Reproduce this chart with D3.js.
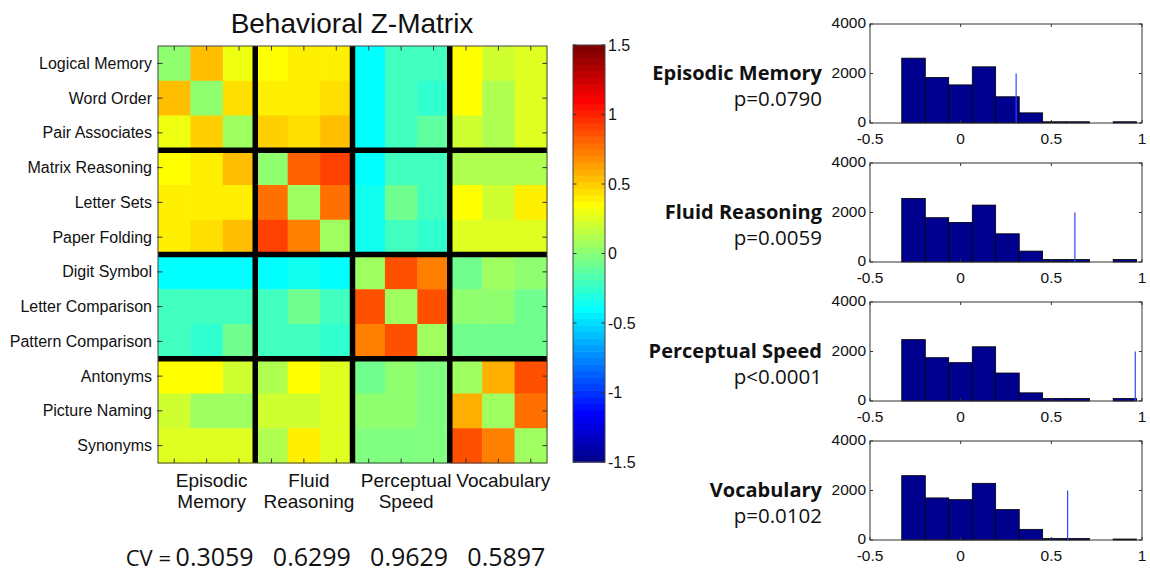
<!DOCTYPE html>
<html>
<head>
<meta charset="utf-8">
<script src="https://cdn.jsdelivr.net/npm/d3@7"></script>
<style>
  body { margin: 0; background: #fff; }
  svg text { fill: #111; }
</style>
</head>
<body>
<div id="chart"></div>
<script>
// ---- data ----
const tests = ['Logical Memory', 'Word Order', 'Pair Associates',
  'Matrix Reasoning', 'Letter Sets', 'Paper Folding',
  'Digit Symbol', 'Letter Comparison', 'Pattern Comparison',
  'Antonyms', 'Picture Naming', 'Synonyms'];

const groupLabels = [['Episodic', 'Memory'], ['Fluid', 'Reasoning'], ['Perceptual', 'Speed'], ['Vocabulary']];

const zMatrix = [
  [0.02, 0.56, 0.31, 0.35, 0.39, 0.40, -0.40, -0.19, -0.19, 0.33, 0.19, 0.26],
  [0.56, 0.02, 0.46, 0.40, 0.41, 0.45, -0.38, -0.23, -0.28, 0.36, 0.10, 0.24],
  [0.31, 0.48, 0.07, 0.50, 0.43, 0.55, -0.38, -0.23, -0.14, 0.21, 0.10, 0.24],
  [0.35, 0.39, 0.52, 0.00, 0.80, 0.90, -0.39, -0.19, -0.19, 0.10, 0.14, 0.10],
  [0.40, 0.40, 0.42, 0.78, 0.05, 0.75, -0.33, -0.05, -0.19, 0.36, 0.21, 0.41],
  [0.40, 0.45, 0.54, 0.90, 0.73, 0.07, -0.35, -0.23, -0.28, 0.28, 0.28, 0.24],
  [-0.38, -0.38, -0.38, -0.38, -0.35, -0.38, 0.05, 0.89, 0.73, -0.05, 0.07, 0.02],
  [-0.19, -0.23, -0.23, -0.19, -0.05, -0.23, 0.89, 0.05, 0.89, 0.00, 0.00, -0.05],
  [-0.19, -0.28, -0.09, -0.19, -0.19, -0.28, 0.73, 0.89, 0.07, -0.05, -0.05, -0.05],
  [0.33, 0.33, 0.19, 0.12, 0.37, 0.28, -0.05, 0.00, -0.03, 0.05, 0.60, 0.89],
  [0.19, 0.07, 0.07, 0.21, 0.21, 0.28, 0.02, 0.02, -0.03, 0.60, 0.07, 0.75],
  [0.26, 0.24, 0.24, 0.10, 0.42, 0.26, -0.03, -0.03, -0.03, 0.89, 0.73, 0.07]
];

const colorTicks = [-1.5, -1, -0.5, 0, 0.5, 1, 1.5];
const cvValues = [0.3059, 0.6299, 0.9629, 0.5897];

const histNames = ['Episodic Memory', 'Fluid Reasoning', 'Perceptual Speed', 'Vocabulary'];
const histP = ['p=0.0790', 'p=0.0059', 'p<0.0001', 'p=0.0102'];
const binEdges = [-0.325, -0.195, -0.066, 0.064, 0.193, 0.323, 0.452, 0.582, 0.711, 0.841, 0.970];
const countsEpisodic   = [2620, 1840, 1540, 2270, 1060, 410, 50, 50, 0, 50];
const countsFluid      = [2570, 1790, 1600, 2300, 1140, 440, 100, 100, 0, 100];
const countsPerceptual = [2480, 1750, 1550, 2190, 1130, 330, 100, 100, 0, 100];
const countsVocabulary = [2600, 1700, 1630, 2290, 1230, 430, 60, 60, 0, 40];
const histCounts = [countsEpisodic, countsFluid, countsPerceptual, countsVocabulary];
const histXTicks = [-0.5, 0, 0.5, 1];
const histYTicks = [0, 2000, 4000];
const cvLineHeight = 2000;

// ---- MATLAB jet(64) ----
function jetMap(n) {
  const m = Math.ceil(n / 4);
  const u = [];
  for (let i = 1; i <= m; i++) u.push(i / m);
  for (let i = 1; i < m; i++) u.push(1);
  for (let i = m; i >= 1; i--) u.push(i / m);
  const J = d3.range(n).map(() => [0, 0, 0]);
  const g0 = Math.ceil(m / 2) - (n % 4 === 1 ? 1 : 0);
  u.forEach((val, k) => {
    const g = g0 + k + 1, r = g + m, b = g - m;
    if (r >= 1 && r <= n) J[r - 1][0] = val;
    if (g >= 1 && g <= n) J[g - 1][1] = val;
    if (b >= 1 && b <= n) J[b - 1][2] = val;
  });
  return J.map(c => d3.rgb(c[0] * 255, c[1] * 255, c[2] * 255).formatHex());
}
const jet = jetMap(64);
const cmin = -1.5, cmax = 1.5;
const colorOf = v => jet[Math.max(0, Math.min(63, Math.floor((v - cmin) / (cmax - cmin) * 64)))];

const width = 1150, height = 574;
const svg = d3.select('#chart').append('svg')
  .attr('width', width).attr('height', height)
  .style('font-family', '"Liberation Sans", Arial, sans-serif');

svg.append('rect').attr('width', width).attr('height', height).attr('fill', '#fff');

// ---- matrix ----
const mx = d3.scaleBand().domain(d3.range(12)).range([158, 547]);
const my = d3.scaleBand().domain(d3.range(12)).range([46, 463]);
const mat = svg.append('g');

zMatrix.forEach((row, i) => {
  mat.selectAll(null).data(row).join('rect')
    .attr('x', (d, j) => mx(j))
    .attr('y', my(i))
    .attr('width', mx.bandwidth() + 0.5)
    .attr('height', my.bandwidth() + 0.5)
    .attr('fill', d => colorOf(d));
});

// tick marks inward on all sides
const tk = 4.5;
d3.range(12).forEach(i => {
  const cx = mx(i) + mx.bandwidth() / 2, cy = my(i) + my.bandwidth() / 2;
  mat.append('line').attr('x1', cx).attr('x2', cx).attr('y1', 46).attr('y2', 46 + tk);
  mat.append('line').attr('x1', cx).attr('x2', cx).attr('y1', 463).attr('y2', 463 - tk);
  mat.append('line').attr('y1', cy).attr('y2', cy).attr('x1', 158 - 1).attr('x2', 158 + tk);
  mat.append('line').attr('y1', cy).attr('y2', cy).attr('x1', 547).attr('x2', 547 - tk);
});
mat.selectAll('line').attr('stroke', '#333').attr('stroke-width', 1);

// thick black separators between test groups
[3, 6, 9].forEach(k => {
  mat.append('line').attr('x1', mx(k)).attr('x2', mx(k)).attr('y1', 46).attr('y2', 463)
    .attr('stroke', '#000').attr('stroke-width', 5.5);
  mat.append('line').attr('y1', my(k)).attr('y2', my(k)).attr('x1', 158).attr('x2', 547)
    .attr('stroke', '#000').attr('stroke-width', 5.5);
});
mat.append('rect').attr('x', 158).attr('y', 46).attr('width', 389).attr('height', 417)
  .attr('fill', 'none').attr('stroke', '#444').attr('stroke-width', 1);

// row labels
svg.append('g').selectAll('text').data(tests).join('text')
  .attr('x', 152)
  .attr('y', (d, i) => my(i) + my.bandwidth() / 2)
  .attr('dy', '0.35em')
  .attr('text-anchor', 'end')
  .style('font-size', '16px')
  .text(d => d);

// column group labels
groupLabels.forEach((lines, g) => {
  const cx = (mx(g * 3) + mx(g * 3 + 2) + mx.bandwidth()) / 2 + 5;
  lines.forEach((t, li) => {
    svg.append('text').attr('x', cx).attr('y', 487 + li * 21)
      .attr('text-anchor', 'middle').style('font-size', '19px').text(t);
  });
});

// title
svg.append('text').attr('x', 352).attr('y', 33).attr('text-anchor', 'middle')
  .style('font-size', '28px').text('Behavioral Z-Matrix');

// CV row
svg.append('text').attr('x', 171).attr('y', 566).attr('text-anchor', 'end')
  .style('font-family', '"Open Sans", sans-serif').style('font-size', '22px').text('CV =');
cvValues.forEach((v, g) => {
  const cx = (mx(g * 3) + mx(g * 3 + 2) + mx.bandwidth()) / 2 + 8;
  svg.append('text').attr('x', cx).attr('y', 566).attr('text-anchor', 'middle')
    .style('font-family', '"Open Sans", sans-serif').style('font-size', '25px')
    .text(v.toFixed(4));
});

// ---- colorbar ----
const cy = d3.scaleLinear().domain([cmin, cmax]).range([462, 45]);
const cb = svg.append('g');
cb.selectAll('rect').data(jet).join('rect')
  .attr('x', 573).attr('width', 32)
  .attr('y', (d, i) => cy(cmin + (i + 1) * (cmax - cmin) / 64))
  .attr('height', (cy(cmin) - cy(cmax)) / 64 + 0.6)
  .attr('fill', d => d);
cb.append('rect').attr('x', 573).attr('y', 45).attr('width', 32).attr('height', 417)
  .attr('fill', 'none').attr('stroke', '#444');
colorTicks.forEach(t => {
  cb.append('line').attr('x1', 573).attr('x2', 576.5).attr('y1', cy(t)).attr('y2', cy(t)).attr('stroke', '#333');
  cb.append('line').attr('x1', 605).attr('x2', 601.5).attr('y1', cy(t)).attr('y2', cy(t)).attr('stroke', '#333');
  cb.append('text').attr('x', 608).attr('y', cy(t)).attr('dy', '0.35em')
    .style('font-size', '16px').text(t);
});

// ---- histograms ----
const hx = d3.scaleLinear().domain([-0.5, 1]).range([870, 1142]);
histCounts.forEach((counts, p) => {
  const top = 24 + p * 139, bottom = top + 99;
  const hy = d3.scaleLinear().domain([0, 4000]).range([bottom, top]);
  const g = svg.append('g');

  g.selectAll('rect').data(counts).join('rect')
    .attr('x', (d, i) => hx(binEdges[i]))
    .attr('width', (d, i) => hx(binEdges[i + 1]) - hx(binEdges[i]))
    .attr('y', d => hy(d))
    .attr('height', d => hy(0) - hy(d))
    .attr('fill', '#00008f')
    .attr('stroke', '#000')
    .attr('stroke-width', 0.8);

  // observed CV marker
  g.append('line')
    .attr('x1', hx(cvValues[p])).attr('x2', hx(cvValues[p]))
    .attr('y1', hy(0)).attr('y2', hy(cvLineHeight))
    .attr('stroke', '#3344ff').attr('stroke-width', 1.2);

  g.append('rect').attr('x', 870).attr('y', top).attr('width', 272).attr('height', 99)
    .attr('fill', 'none').attr('stroke', '#333').attr('stroke-width', 1);

  histXTicks.forEach(t => {
    g.append('line').attr('x1', hx(t)).attr('x2', hx(t)).attr('y1', top).attr('y2', top + 3).attr('stroke', '#333');
    g.append('line').attr('x1', hx(t)).attr('x2', hx(t)).attr('y1', bottom).attr('y2', bottom - 3).attr('stroke', '#333');
    g.append('text').attr('x', hx(t)).attr('y', bottom + 21).attr('text-anchor', 'middle')
      .style('font-size', '15.5px').text(t);
  });
  histYTicks.forEach(t => {
    g.append('line').attr('x1', 870).attr('x2', 873).attr('y1', hy(t)).attr('y2', hy(t)).attr('stroke', '#333');
    g.append('line').attr('x1', 1142).attr('x2', 1139).attr('y1', hy(t)).attr('y2', hy(t)).attr('stroke', '#333');
    g.append('text').attr('x', 866).attr('y', hy(t)).attr('dy', '0.28em').attr('text-anchor', 'end')
      .style('font-size', '15.5px').text(t);
  });

  g.append('text').attr('x', 822).attr('y', top + 56).attr('text-anchor', 'end')
    .style('font-family', '"Open Sans", sans-serif').style('font-weight', 'bold').style('font-size', '20px')
    .text(histNames[p]);
  g.append('text').attr('x', 822).attr('y', top + 82).attr('text-anchor', 'end')
    .style('font-family', '"Open Sans", sans-serif').style('font-size', '20.5px')
    .text(histP[p]);
});
</script>
</body>
</html>
